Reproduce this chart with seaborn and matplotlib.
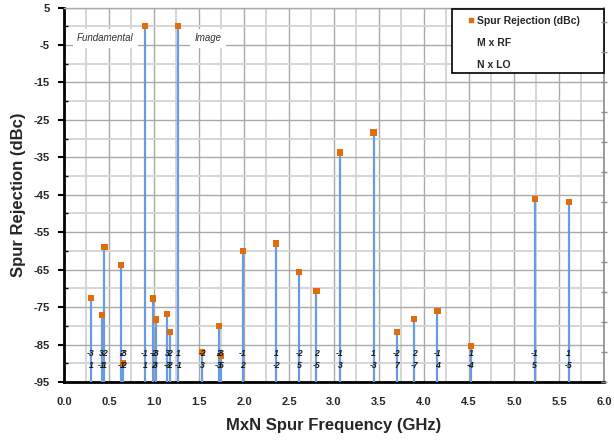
import matplotlib
matplotlib.use("Agg")
import matplotlib.pyplot as plt
from matplotlib.lines import Line2D
from matplotlib.patches import Rectangle
import seaborn as sns
import pandas as pd

# ---- data ----
freq_ghz = [0.30, 0.42, 0.45, 0.635, 0.66, 0.90, 0.99, 1.02, 1.147, 1.178, 1.27,
            1.535, 1.72, 1.745, 1.985, 2.36, 2.615, 2.805, 3.067, 3.44, 3.70,
            3.89, 4.15, 4.52, 5.23, 5.607]
rejection_dbc = [-72.5, -77.0, -59.0, -63.7, -90.0, 0.0, -72.7, -78.3, -76.9, -81.6, 0.0,
                 -87.0, -80.1, -88.0, -60.0, -58.0, -65.7, -70.6, -33.7, -28.4, -81.7,
                 -78.1, -76.1, -85.4, -46.2, -47.0]
m_rf = [-3, 3, -2, 2, -3, -1, -2, -3, 3, 2, 1,
        -2, 2, -3, -1, 1, -2, 2, -1, 1, -2,
        2, -1, 1, -1, 1]
n_lo = [1, -1, 1, -1, 2, 1, 2, 3, -3, -2, -1,
        3, -3, 5, 2, -2, 5, -5, 3, -3, 7,
        -7, 4, -4, 5, -5]
x_ticks = [0.0, 0.5, 1.0, 1.5, 2.0, 2.5, 3.0, 3.5, 4.0, 4.5, 5.0, 5.5, 6.0]
y_ticks = [5, -5, -15, -25, -35, -45, -55, -65, -75, -85, -95]
annotations = [("Fundamental", 0.46), ("Image", 1.60)]
legend_labels = ["Spur Rejection (dBc)", "M x RF", "N x LO"]

df = pd.DataFrame({"freq": freq_ghz, "rej": rejection_dbc, "M": m_rf, "N": n_lo})

sns.set_style("white")
plt.rcParams["font.family"] = ["Liberation Sans", "DejaVu Sans"]

fig = plt.figure(figsize=(6.14, 4.42), dpi=100)
ax = fig.add_axes([0.1042, 0.1357, 0.8795, 0.8473])

Y0 = -95
stem_c = "#6a9be0"
mark_c = "#e36c0a"

# stems
ax.vlines(df["freq"], Y0, df["rej"], color=stem_c, lw=1.6, zorder=3)
# markers
sns.scatterplot(data=df, x="freq", y="rej", marker="s", s=20, color=mark_c,
                edgecolor="none", ax=ax, zorder=4, legend=False)

# M / N labels
for f, m, n in zip(df["freq"], df["M"], df["N"]):
    ax.text(f, -87.5, str(m), ha="center", va="center", fontsize=6.2,
            style="italic", fontweight="bold", color="#1a1a1a", zorder=5)
    ax.text(f, -90.6, str(n), ha="center", va="center", fontsize=6.2,
            style="italic", fontweight="bold", color="#1a1a1a", zorder=5)

for txt, xp in annotations:
    ax.text(xp, -3.2, txt, ha="center", va="center", fontsize=7, style="italic",
            color="#333333", zorder=5,
            bbox=dict(boxstyle="square,pad=0.45", fc="white", ec="none"))

ax.set_xlim(0, 6)
ax.set_ylim(-95, 5)
ax.set_xticks(x_ticks)
ax.set_xticklabels([f"{t:.1f}" for t in x_ticks])
ax.set_xticks([0.25 + 0.5 * i for i in range(12)], minor=True)
ax.set_yticks(y_ticks)
ax.set_yticklabels([str(t) for t in y_ticks])
ax.set_yticks([0 - 10 * i for i in range(10)], minor=True)

ax.grid(True, which="major", color="#a9a9a9", lw=1.0, zorder=0)
ax.grid(True, which="minor", color="#d6d6d6", lw=1.4, zorder=0)
ax.set_axisbelow(True)

for lab in ax.get_xticklabels() + ax.get_yticklabels():
    lab.set_fontweight("bold")
    lab.set_fontsize(8)

ax.tick_params(axis="x", which="both", direction="inout", length=6, width=2,
               color="black", pad=8)
ax.tick_params(axis="y", which="major", direction="out", length=4, width=1.5,
               color="black", pad=6)
ax.tick_params(axis="y", which="minor", direction="in", length=3, width=1,
               color="black")

ax.spines["left"].set_color("black")
ax.spines["left"].set_linewidth(2)
ax.spines["bottom"].set_color("black")
ax.spines["bottom"].set_linewidth(2)
ax.spines["top"].set_color("#a9a9a9")
ax.spines["top"].set_linewidth(1)
ax.spines["right"].set_color("#8c8c8c")
ax.spines["right"].set_linewidth(1.2)

ax.set_xlabel("MxN Spur Frequency (GHz)", fontsize=12, fontweight="bold", labelpad=8)
ax.set_ylabel("Spur Rejection (dBc)", fontsize=12, fontweight="bold", labelpad=6)

# secondary axis ticks on the right
ax2 = ax.twinx()
ax2.set_ylim(0, 12.5)
ax2.set_yticks(list(range(0, 13)))
ax2.set_yticklabels([])
ax2.tick_params(axis="y", direction="inout", length=5, width=1, color="#8c8c8c")
for s in ax2.spines.values():
    s.set_visible(False)

# legend: frame drawn as a box, entries via legend without its own frame
frame = Rectangle((0.7185, 0.825), 0.2815, 0.171, transform=ax.transAxes,
                  fc="white", ec="black", lw=1.2, zorder=9, clip_on=False)
ax.add_patch(frame)
handles = [Line2D([], [], ls="none", marker="s", ms=3, color=mark_c),
           Line2D([], [], ls="none"),
           Line2D([], [], ls="none")]
leg = ax.legend(handles, legend_labels,
                loc="upper left", bbox_to_anchor=(0.746, 0.977), frameon=False,
                prop={"weight": "bold", "size": 7.5}, labelspacing=1.15,
                handlelength=0.8, handletextpad=0.2, borderpad=0,
                borderaxespad=0)
leg.set_zorder(10)

fig.savefig("out.png", dpi=100)
